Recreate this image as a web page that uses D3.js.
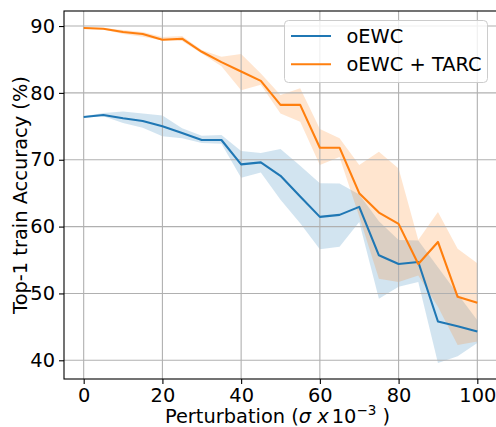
<!DOCTYPE html>
<html>
<head>
<meta charset="utf-8">
<script src="https://cdn.jsdelivr.net/npm/d3@7"></script>
<style>
  body { margin: 0; background: #fff; }
  svg { display: block; font-family: "DejaVu Sans", sans-serif; }
</style>
</head>
<body>
<div id="chart"></div>
<script>
// perturbation levels (sigma x 1e-3)
const perturb = [0, 5, 10, 15, 20, 25, 30, 35, 40, 45, 50, 55, 60, 65, 70, 75, 80, 85, 90, 95, 100];

// oEWC
const ewcMean = [76.4, 76.7, 76.2, 75.8, 75.0, 74.0, 72.95, 72.95, 69.3, 69.6, 67.6, 64.5, 61.45, 61.75, 62.95, 55.7, 54.4, 54.7, 45.8, 45.1, 44.3];
const ewcLow  = [76.3, 76.5, 75.5, 74.8, 73.5, 73.2, 72.5, 72.4, 67.3, 68.1, 64.0, 60.5, 56.6, 57.0, 60.7, 49.2, 51.0, 51.7, 39.6, 40.6, 42.6];
const ewcHigh = [76.5, 77.0, 77.2, 76.9, 76.6, 74.7, 73.6, 73.7, 71.3, 71.0, 71.6, 69.1, 66.5, 66.45, 64.8, 60.8, 58.0, 57.9, 53.9, 49.9, 46.0];

// oEWC + TARC
const tarcMean = [89.7, 89.6, 89.1, 88.8, 87.95, 88.1, 86.15, 84.6, 83.2, 81.8, 78.2, 78.2, 71.8, 71.8, 65.0, 62.1, 60.4, 54.4, 57.7, 49.5, 48.6];
const tarcLow  = [89.6, 89.5, 88.8, 88.4, 87.85, 87.75, 85.9, 84.0, 80.4, 81.2, 76.9, 75.7, 69.2, 70.4, 61.5, 52.2, 51.7, 52.7, 48.0, 42.3, 42.8];
const tarcHigh = [89.8, 89.7, 89.4, 89.1, 88.35, 88.5, 86.4, 85.4, 85.8, 82.9, 79.7, 80.7, 74.6, 73.2, 69.2, 71.2, 68.7, 58.0, 62.2, 56.7, 54.5];

const xTicks = [0, 20, 40, 60, 80, 100];
const yTicks = [40, 50, 60, 70, 80, 90];
const seriesNames = ["oEWC", "oEWC + TARC"];
const colors = ["#1f77b4", "#ff7f0e"];

//size
const W = 496, H = 427;
const margin = { top: 11, right: -1, bottom: 48, left: 64 },
  width = W - margin.left - margin.right,
  height = H - margin.top - margin.bottom;
const fs = 19.4;

const svg = d3.select("#chart").append("svg")
  .attr("width", W).attr("height", H);
const g = svg.append("g")
  .attr("transform", "translate(" + margin.left + "," + margin.top + ")");

const x = d3.scaleLinear().domain([-5, 105]).range([0, width]);
const y = d3.scaleLinear().domain([37.2, 92.25]).range([height, 0]);

const series = [
  { name: seriesNames[0], mean: ewcMean, low: ewcLow, high: ewcHigh, color: colors[0] },
  { name: seriesNames[1], mean: tarcMean, low: tarcLow, high: tarcHigh, color: colors[1] }
];

const area = d3.area()
  .x((d) => x(d.x))
  .y0((d) => y(d.lo))
  .y1((d) => y(d.hi));
const line = d3.line()
  .x((d) => x(d.x))
  .y((d) => y(d.v));

// shaded bands (below grid)
series.forEach((s) => {
  const pts = perturb.map((p, i) => ({ x: p, lo: s.low[i], hi: s.high[i] }));
  g.append("path").datum(pts)
    .attr("d", area)
    .attr("fill", s.color)
    .attr("fill-opacity", 0.2);
});

// grid
g.append("g").selectAll("line").data(xTicks).enter().append("line")
  .attr("x1", (d) => x(d)).attr("x2", (d) => x(d))
  .attr("y1", 0).attr("y2", height)
  .attr("stroke", "#b0b0b0").attr("stroke-width", 1.1);
g.append("g").selectAll("line").data(yTicks).enter().append("line")
  .attr("x1", 0).attr("x2", width)
  .attr("y1", (d) => y(d)).attr("y2", (d) => y(d))
  .attr("stroke", "#b0b0b0").attr("stroke-width", 1.1);

// lines
series.forEach((s) => {
  const pts = perturb.map((p, i) => ({ x: p, v: s.mean[i] }));
  g.append("path").datum(pts)
    .attr("d", line)
    .attr("fill", "none")
    .attr("stroke", s.color)
    .attr("stroke-width", 2.1)
    .attr("stroke-linejoin", "round");
});

// axes
const xAxis = g.append("g")
  .attr("transform", "translate(0," + height + ")")
  .call(d3.axisBottom(x).tickValues(xTicks).tickSize(5).tickPadding(4));
const yAxis = g.append("g")
  .call(d3.axisLeft(y).tickValues(yTicks).tickSize(5).tickPadding(4));
[xAxis, yAxis].forEach((a) => {
  a.select(".domain").remove();
  a.selectAll("line").attr("stroke", "#000").attr("stroke-width", 1.1);
  a.selectAll("text").attr("font-size", fs).attr("fill", "#000")
    .attr("font-family", "DejaVu Sans");
});

// spines
g.append("rect")
  .attr("x", 0).attr("y", 0).attr("width", width).attr("height", height)
  .attr("fill", "none").attr("stroke", "#000").attr("stroke-width", 1.1);

// axis labels
const xl = svg.append("text")
  .attr("x", margin.left + width / 2 - 3)
  .attr("y", 423)
  .attr("text-anchor", "middle")
  .attr("font-size", fs);
xl.append("tspan").text("Perturbation (");
xl.append("tspan").attr("font-style", "italic").text("σ x");
xl.append("tspan").attr("dx", 3).text("10");
xl.append("tspan").attr("dy", -8).attr("font-size", 13.5).text("−3");
xl.append("tspan").attr("dy", 8).text(" )");

svg.append("text")
  .attr("transform", "translate(27," + (margin.top + height / 2) + ") rotate(-90)")
  .attr("text-anchor", "middle")
  .attr("font-size", fs)
  .text("Top-1 train Accuracy (%)");

// legend
const leg = svg.append("g").attr("transform", "translate(284.5,20.5)");
leg.append("rect")
  .attr("width", 203).attr("height", 62).attr("rx", 4)
  .attr("fill", "#fff").attr("fill-opacity", 0.8)
  .attr("stroke", "#cccccc").attr("stroke-width", 1);
series.forEach((s, i) => {
  const yy = 15.5 + i * 28.3;
  leg.append("line")
    .attr("x1", 6.5).attr("x2", 46.5).attr("y1", yy).attr("y2", yy)
    .attr("stroke", s.color).attr("stroke-width", 2.1);
  leg.append("text")
    .attr("x", 62).attr("y", yy).attr("dy", "0.35em")
    .attr("font-size", fs).text(s.name);
});
</script>
</body>
</html>
